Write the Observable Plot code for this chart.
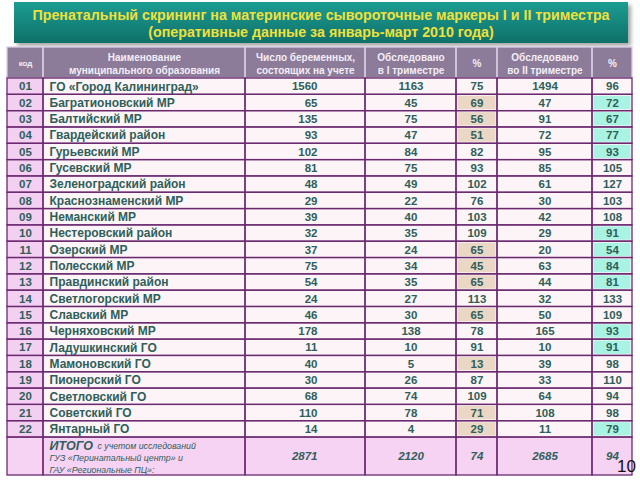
<!DOCTYPE html>
<html><head><meta charset="utf-8">
<script src="https://cdn.jsdelivr.net/npm/d3@7"></script>
<script src="https://cdn.jsdelivr.net/npm/@observablehq/plot@0.6"></script>
<style>
body{margin:0;background:#fff;width:640px;height:480px;overflow:hidden;position:relative;font-family:"Liberation Sans",Arial,sans-serif}
#title{position:absolute;left:14px;top:2px;width:614px;height:41px;background:linear-gradient(#1c9d92,#0f7068);box-shadow:3px 3px 4px rgba(0,0,0,.35);color:#efe03c;font-family:"Liberation Sans",Arial,sans-serif;font-weight:bold;font-size:15px;text-align:center;line-height:17px;padding-top:4px;box-sizing:border-box;white-space:nowrap}
#title span{display:inline-block;transform-origin:center}
#chart{position:absolute;left:0;top:45px}
#page{position:absolute;right:4px;top:457px;font-size:17px;color:#111}
</style></head><body>
<div id="title"><span id="t1"></span><br><span id="t2"></span></div>
<div id="chart"></div>
<div id="page">10</div>
<script>
const titleLines = ["Пренатальный скрининг на материнские сывороточные маркеры I и II триместра","(оперативные данные за январь-март 2010 года)"];
const codes = ["01","02","03","04","05","06","07","08","09","10","11","12","13","14","15","16","17","18","19","20","21","22"];
const names = ["ГО «Город Калининград»","Багратионовский МР","Балтийский МР","Гвардейский район","Гурьевский МР","Гусевский МР","Зеленоградский район","Краснознаменский МР","Неманский МР","Нестеровский район","Озерский МР","Полесский МР","Правдинский район","Светлогорский МР","Славский МР","Черняховский МР","Ладушкинский ГО","Мамоновский ГО","Пионерский ГО","Светловский ГО","Советский ГО","Янтарный ГО"];
const pregnant  = [1560,65,135,93,102,81,48,29,39,32,37,75,54,24,46,178,11,40,30,68,110,14];
const examined1 = [1163,45,75,47,84,75,49,22,40,35,24,34,35,27,30,138,10,5,26,74,78,4];
const pct1      = [75,69,56,51,82,93,102,76,103,109,65,45,65,113,65,78,91,13,87,109,71,29];
const examined2 = [1494,47,91,72,95,85,61,30,42,29,20,63,44,32,50,165,10,39,33,64,108,11];
const pct2      = [96,72,67,77,93,105,127,103,108,91,54,84,81,133,109,93,91,98,110,94,98,79];
const totalValues = [2871,2120,74,2685,94];
const headerLabels = ["код","Наименование\nмуниципального образования","Число беременных,\nсостоящих на учете","Обследовано\nв I триместре","%","Обследовано\nво II триместре","%"];
const totalLines = ["ИТОГО","с учетом исследований","ГУЗ «Перинатальный центр» и","ГАУ «Региональные ПЦ»:"];
const pct1Threshold = 75, pct2Threshold = 94;

// title (condensed to the reference width)
const t1 = document.getElementById("t1"), t2 = document.getElementById("t2");
t1.textContent = titleLines[0]; t2.textContent = titleLines[1];
const s = 577 / t1.getBoundingClientRect().width;
t1.style.transform = `scaleX(${s})`; t2.style.transform = `scaleX(${s})`;
t1.style.margin = t2.style.margin = "0 -200px";

// layout
const W = 640, H = 435;
const edges = [7,43,245,365,456,497,592,632];
const headTop = 2, headBot = 33, rowH = 16.32;
const rowTop = i => headBot + i*rowH;
const totTop = rowTop(codes.length), totBot = 430;

const C = {head:"#8c7b99", code:"#f3d0f1", cell:"#fcf4f7", total:"#f6d2f3", beige:"#ead7c5", aqua:"#aaf3e3", border:"#6b2a70", text:"#2f5f58", headText:"#f4eef7"};

const rows = codes.map((c,i)=>({i, code:c, name:names[i], vals:[pregnant[i],examined1[i],pct1[i],examined2[i],pct2[i]]}));

const cells = [];
headerLabels.forEach((h,j)=>cells.push({x1:edges[j],x2:edges[j+1],y1:headTop,y2:headBot,fill:C.head,stroke:"#d9cde2"}));
rows.forEach(r=>{
  for(let j=0;j<7;j++) cells.push({x1:edges[j],x2:edges[j+1],y1:rowTop(r.i),y2:rowTop(r.i+1),fill:j===0?C.code:C.cell,stroke:C.border});
});
for(let j=0;j<7;j++) cells.push({x1:edges[j],x2:edges[j+1],y1:totTop,y2:totBot,fill:C.total,stroke:C.border});

const highlights = [];
rows.forEach(r=>{
  if(r.vals[2] < pct1Threshold) highlights.push({x1:edges[4],x2:edges[5],y1:rowTop(r.i),y2:rowTop(r.i+1),fill:C.beige});
  if(r.vals[4] < pct2Threshold) highlights.push({x1:edges[6],x2:edges[7],y1:rowTop(r.i),y2:rowTop(r.i+1),fill:C.aqua});
});

const mid = j => (edges[j]+edges[j+1])/2;
const rowMid = i => rowTop(i)+rowH/2;
const headTexts = headerLabels.map((t,j)=>({x:mid(j),y:(headTop+headBot)/2,t}));
const centerVals = [];
rows.forEach(r=>{ [1,2,3,4].forEach(k=>centerVals.push({x:mid(k+2),y:rowMid(r.i),t:String(r.vals[k])})); });
const totMid = (totTop+totBot)/2;
const totVals = totalValues.map((v,k)=>({x: k===0 ? edges[3]-48 : mid(k+2), y: totMid, t:String(v), a: k===0?"end":"middle"}));

const font = "Liberation Sans, Arial, sans-serif";
const plot = Plot.plot({
  width: W, height: H, margin: 0,
  style: {background:"transparent", fontFamily: font},
  x: {axis:null, domain:[0,W], range:[0,W]},
  y: {axis:null, domain:[0,H], range:[0,H]},
  color: {type:"identity"},
  marks: [
    Plot.rect(cells, {x1:"x1",x2:"x2",y1:"y1",y2:"y2",fill:"fill"}),
    Plot.rect(highlights, {x1:"x1",x2:"x2",y1:"y1",y2:"y2",fill:"fill",inset:1.5}),
    Plot.rect(cells, {x1:"x1",x2:"x2",y1:"y1",y2:"y2",stroke:"stroke",strokeWidth:1.3,fill:"none"}),
    Plot.text(headTexts.slice(0,1), {x:"x",y:"y",text:"t",fill:C.headText,fontSize:8,fontWeight:"bold"}),
    Plot.text(headTexts.slice(1), {x:"x",y:"y",text:"t",fill:C.headText,fontSize:10,fontWeight:"bold",lineHeight:1.3}),
    Plot.text(rows, {x:mid(0),y:d=>rowMid(d.i),text:"code",fill:C.text,fontSize:11.5,fontWeight:"bold"}),
    Plot.text(rows, {x:edges[1]+6,y:d=>rowMid(d.i),text:"name",textAnchor:"start",fill:C.text,fontSize:12,fontWeight:"bold"}),
    Plot.text(rows, {x:edges[3]-48,y:d=>rowMid(d.i),text:d=>String(d.vals[0]),textAnchor:"end",fill:C.text,fontSize:11.5,fontWeight:"bold"}),
    Plot.text(centerVals, {x:"x",y:"y",text:"t",fill:C.text,fontSize:11.5,fontWeight:"bold"}),
    Plot.text(totalLines.slice(0,1), {x:edges[1]+6,y:totTop+8,text:d=>d,textAnchor:"start",fill:C.text,fontSize:12.5,fontWeight:"bold",fontStyle:"italic"}),
    Plot.text(totalLines.slice(1,2), {x:edges[1]+6,y:totTop+9,dx:48,text:d=>d,textAnchor:"start",fill:C.text,fontSize:8.8,fontStyle:"italic"}),
    Plot.text(totalLines.slice(2), {x:edges[1]+6,y:(d,i)=>totTop+21+i*12,text:d=>d,textAnchor:"start",fill:C.text,fontSize:8.8,fontStyle:"italic"}),
    Plot.text(totVals.filter(d=>d.a==="end"), {x:"x",y:"y",text:"t",textAnchor:"end",fill:C.text,fontSize:11.5,fontWeight:"bold",fontStyle:"italic"}),
    Plot.text(totVals.filter(d=>d.a!=="end"), {x:"x",y:"y",text:"t",fill:C.text,fontSize:11.5,fontWeight:"bold",fontStyle:"italic"})
  ]
});
document.getElementById("chart").appendChild(plot);
</script>
</body></html>
